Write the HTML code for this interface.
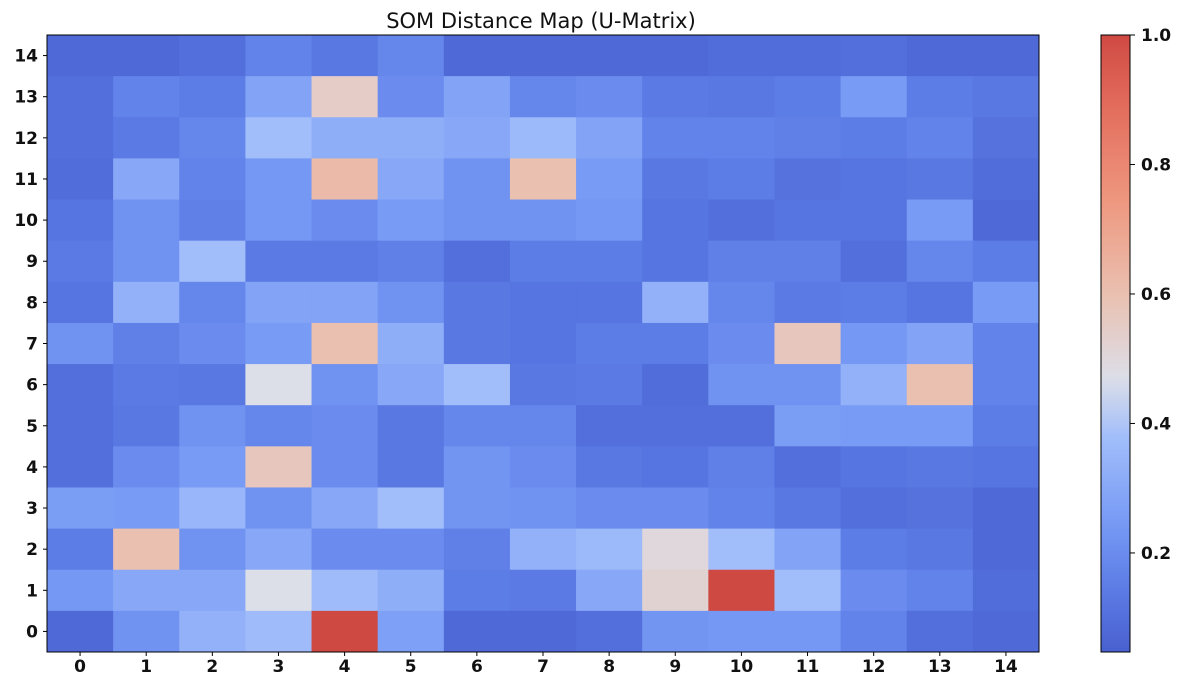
<!DOCTYPE html>
<html><head><meta charset="utf-8"><style>
body{margin:0;background:#fff;width:1185px;height:691px;overflow:hidden;font-family:"DejaVu Sans","Liberation Sans",sans-serif;}
</style></head><body>
<svg id="chart" width="1185" height="691" xmlns="http://www.w3.org/2000/svg" font-family="DejaVu Sans, Liberation Sans, sans-serif">
<defs><linearGradient id="cbgrad" x1="0" y1="1" x2="0" y2="0"></linearGradient></defs>
<text x="541" y="28" text-anchor="middle" font-size="21" fill="#111">SOM Distance Map (U-Matrix)</text>
<g id="cells"></g><g id="axes"></g><g id="cbar"></g>
</svg>
<script>
// rows listed top (row 14) to bottom (row 0)
const rowLabels=[14,13,12,11,10,9,8,7,6,5,4,3,2,1,0];
const colLabels=[0,1,2,3,4,5,6,7,8,9,10,11,12,13,14];
const row14=[0.08,0.08,0.1,0.17,0.13,0.18,0.08,0.08,0.08,0.08,0.09,0.09,0.1,0.08,0.08];
const row13=[0.1,0.17,0.15,0.28,0.55,0.2,0.28,0.18,0.2,0.14,0.13,0.15,0.25,0.15,0.13];
const row12=[0.1,0.14,0.18,0.38,0.32,0.32,0.3,0.36,0.28,0.17,0.17,0.16,0.15,0.17,0.11];
const row11=[0.09,0.3,0.17,0.24,0.62,0.3,0.22,0.6,0.25,0.13,0.15,0.11,0.12,0.13,0.09];
const row10=[0.12,0.22,0.16,0.24,0.2,0.25,0.22,0.22,0.24,0.12,0.1,0.12,0.12,0.25,0.08];
const row9=[0.14,0.22,0.38,0.14,0.14,0.16,0.1,0.15,0.15,0.12,0.16,0.16,0.1,0.18,0.15];
const row8=[0.12,0.33,0.18,0.28,0.28,0.22,0.13,0.12,0.12,0.33,0.18,0.14,0.15,0.12,0.25];
const row7=[0.22,0.16,0.2,0.25,0.6,0.32,0.13,0.12,0.15,0.15,0.2,0.57,0.24,0.28,0.17];
const row6=[0.1,0.14,0.13,0.47,0.22,0.3,0.38,0.13,0.14,0.09,0.22,0.22,0.33,0.6,0.17];
const row5=[0.1,0.13,0.22,0.18,0.2,0.13,0.18,0.18,0.1,0.1,0.1,0.26,0.25,0.25,0.15];
const row4=[0.1,0.2,0.25,0.57,0.2,0.13,0.23,0.2,0.13,0.12,0.16,0.1,0.12,0.13,0.12];
const row3=[0.26,0.25,0.35,0.22,0.3,0.38,0.23,0.22,0.2,0.2,0.17,0.13,0.1,0.11,0.08];
const row2=[0.15,0.6,0.22,0.3,0.2,0.2,0.16,0.33,0.36,0.5,0.38,0.28,0.15,0.13,0.08];
const row1=[0.24,0.3,0.3,0.47,0.37,0.32,0.15,0.14,0.3,0.52,1.0,0.38,0.2,0.17,0.09];
const row0=[0.08,0.22,0.33,0.37,1.0,0.27,0.08,0.08,0.1,0.23,0.24,0.24,0.17,0.1,0.08];
const grid=[row14,row13,row12,row11,row10,row9,row8,row7,row6,row5,row4,row3,row2,row1,row0];
const cbTicks=[0.2,0.4,0.6,0.8,1.0];
const vmin=0.047, vmax=1.0;

const NS='http://www.w3.org/2000/svg';
const X0=47,X1=1039,Y0=35,Y1=652;
const cw=(X1-X0)/colLabels.length, ch=(Y1-Y0)/rowLabels.length;
const anchors=[[0.047,[73,97,208]],[0.15,[93,125,230]],[0.25,[120,155,245]],[0.38,[162,190,250]],[0.47,[220,222,232]],[0.6,[234,192,176]],[0.75,[238,150,125]],[0.9,[225,105,90]],[1.0,[207,73,67]]];
function color(v){
  if(v<=anchors[0][0])return 'rgb('+anchors[0][1]+')';
  for(let i=1;i<anchors.length;i++){if(v<=anchors[i][0]){const a=anchors[i-1],b=anchors[i];const t=(v-a[0])/(b[0]-a[0]);return 'rgb('+a[1].map((c,k)=>Math.round(c+(b[1][k]-c)*t)).join(',')+')';}}
  return 'rgb('+anchors[anchors.length-1][1]+')';
}
function mk(tag,attrs,parent){const e=document.createElementNS(NS,tag);for(const k in attrs)e.setAttribute(k,attrs[k]);parent.appendChild(e);return e;}
const cells=document.getElementById('cells');
grid.forEach((row,ri)=>row.forEach((v,ci)=>{
  const r=mk('rect',{x:X0+ci*cw,y:Y0+ri*ch,width:cw+0.5,height:ch+0.5,fill:color(v)},cells);
  
  
}));
const axes=document.getElementById('axes');
const fr=mk('rect',{x:X0,y:Y0,width:X1-X0,height:Y1-Y0,fill:'none',stroke:'#000','stroke-width':1},axes);


colLabels.forEach((c,i)=>{
  const x=X0+(i+0.5)*cw;
  mk('line',{x1:x,x2:x,y1:Y1,y2:Y1+4,stroke:'#000'},axes);
  const t=mk('text',{x:x,y:Y1+20,'text-anchor':'middle','font-size':17,'font-weight':'bold',fill:'#111'},axes);
  t.textContent=c;
  
  
});
rowLabels.forEach((r,i)=>{
  const y=Y0+(i+0.5)*ch;
  mk('line',{x1:X0-4,x2:X0,y1:y,y2:y,stroke:'#000'},axes);
  const t=mk('text',{x:X0-9,y:y+6,'text-anchor':'end','font-size':17,'font-weight':'bold',fill:'#111'},axes);
  t.textContent=r;
  
  
});
const CX=1101,CW=29;
const grad=document.getElementById('cbgrad');
for(let i=0;i<=40;i++){const v=vmin+(vmax-vmin)*i/40;mk('stop',{offset:(i/40),'stop-color':color(v)},grad);}
const cb=document.getElementById('cbar');
const cbr=mk('rect',{x:CX,y:Y0,width:CW,height:Y1-Y0,fill:'url(#cbgrad)',stroke:'#000','stroke-width':1},cb);


function cy(v){return Y1-(v-vmin)/(vmax-vmin)*(Y1-Y0);}
cbTicks.forEach(v=>{
  const y=cy(v);
  mk('line',{x1:CX+CW,x2:CX+CW+5,y1:y,y2:y,stroke:'#000'},cb);
  const t=mk('text',{x:CX+CW+11,y:y+6,'font-size':17,'font-weight':'bold',fill:'#111'},cb);
  t.textContent=v.toFixed(1);
  
  
});
</script>
</body></html>
